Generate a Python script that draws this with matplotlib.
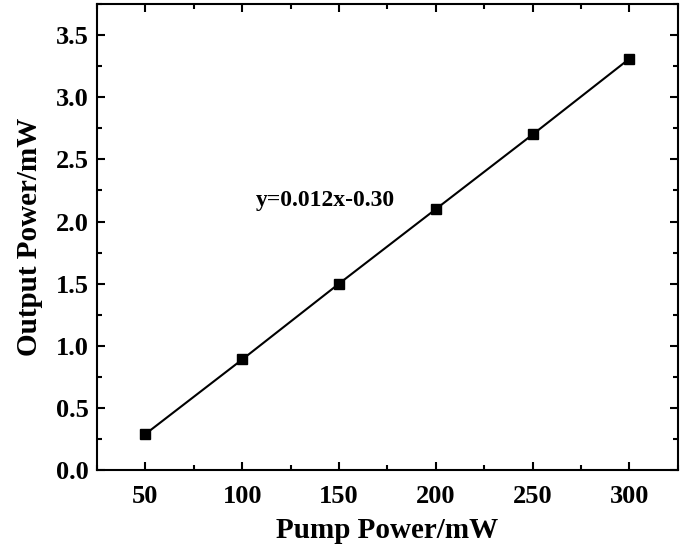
import matplotlib
matplotlib.use("Agg")
import matplotlib.pyplot as plt
from matplotlib.ticker import MultipleLocator

# data
pump_power = [50, 100, 150, 200, 250, 300]
output_power = [0.29, 0.89, 1.50, 2.10, 2.70, 3.31]
fit_label = "y=0.012x-0.30"

plt.rcParams["font.family"] = ["Liberation Serif", "DejaVu Serif"]
plt.rcParams["font.weight"] = "bold"

fig = plt.figure(figsize=(6.85, 5.46), dpi=100)
ax = fig.add_axes([0.1416, 0.139, 0.848, 0.8537])

ax.plot(pump_power, output_power, color="black", linewidth=1.5,
        marker="s", markersize=7)

ax.text(107, 2.17, fit_label, fontsize=17, fontweight="bold",
        ha="left", va="center")

ax.set_xlim(25, 325)
ax.set_ylim(0, 3.75)
ax.xaxis.set_major_locator(MultipleLocator(50))
ax.xaxis.set_minor_locator(MultipleLocator(25))
ax.yaxis.set_major_locator(MultipleLocator(0.5))
ax.yaxis.set_minor_locator(MultipleLocator(0.25))

ax.tick_params(which="both", direction="in", top=True, right=True, width=1.5)
ax.tick_params(which="major", length=6, labelsize=19)
ax.tick_params(axis="x", which="major", pad=11)
ax.tick_params(axis="y", which="major", pad=6)
ax.tick_params(which="minor", length=3.5)
for sp in ax.spines.values():
    sp.set_linewidth(1.5)
for lab in ax.get_xticklabels() + ax.get_yticklabels():
    lab.set_fontweight("bold")

ax.set_xlabel("Pump Power/mW", fontsize=21, fontweight="bold", labelpad=6)
ax.set_ylabel("Output Power/mW", fontsize=21, fontweight="bold", labelpad=9)

fig.savefig("out.png", dpi=100)
